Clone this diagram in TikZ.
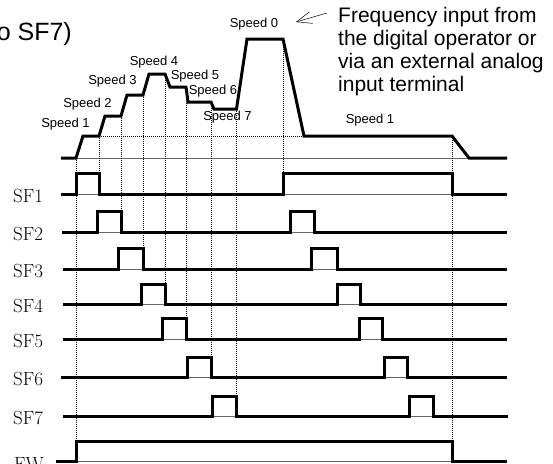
\documentclass[tikz,border=0pt]{standalone}
\usepackage{fontspec}
\newfontfamily\arialfont{Liberation Sans}
\usetikzlibrary{arrows.meta}
\tikzset{
  sig/.style={line width=3pt},
  lowline/.style={line width=0.8pt,black!60},
  guide/.style={line width=0.6pt,dash pattern=on 1pt off 1pt},
  spd/.style={font=\arialfont\fontsize{13}{15}\selectfont,inner sep=0pt},
  sflabel/.style={anchor=west,font=\fontsize{19}{21}\selectfont,inner sep=0pt}
}
\begin{document}
\begin{tikzpicture}[x=1pt,y=-1pt]
  \useasboundingbox (0,0) rectangle (553,463);
  \clip (0,0) rectangle (553,463);
  % speed profile
  \draw[lowline] (76,158) -- (507,158);
  \draw[guide] (99,136) -- (304,136);
  \draw[sig] (61,158) -- (76,158) -- (83,136) -- (99,136) -- (105,116) -- (121,116)
    -- (127,95) -- (143,95) -- (149,74) -- (165,74) -- (170,87) -- (186,87)
    -- (188,102) -- (211,102) -- (214,109) -- (236.5,109) -- (247,39) -- (283,39)
    -- (304,136) -- (452,136) -- (469,158) -- (507,158);
  \node[spd] (sp1) at (65.5,124) {Speed 1};
  \node[spd] (sp2) at (87.5,104) {Speed 2};
  \node[spd] (sp3) at (112.5,81) {Speed 3};
  \node[spd] (sp4) at (154,61.7) {Speed 4};
  \node[spd] (sp5) at (195,76) {Speed 5};
  \node[spd] (sp6) at (213,91) {Speed 6};
  \node[spd] (sp7) at (227.5,117.3) {Speed 7};
  \node[spd] (sp0) at (254,24) {Speed 0};
  \node[spd] (sp1b) at (370,120) {Speed 1};
  \node[anchor=base east,inner sep=0pt,font=\arialfont\fontsize{25}{27}\selectfont] (title) at (72,40) {o SF7)};
  \node[anchor=north west,inner sep=0pt,align=left,font=\arialfont\fontsize{21}{22.9}\selectfont] (freq) at (338,7.5)
    {Frequency input from\\the digital operator or\\via an external analog\\input terminal};
  \coordinate (tail) at (327,13);
  \draw[line width=0.5pt,-{Straight Barb[length=15pt,width=12pt,line width=0.5pt]}] (tail) -- (296,22);
  % time marks
  \draw[guide] (76,158) -- (76,441);
  \draw[guide] (99,136) -- (99,173.5);
  \draw[guide] (121,116) -- (121,211.5);
  \draw[guide] (143,95) -- (143,248.5);
  \draw[guide] (165,74) -- (165,284);
  \draw[guide] (186,87) -- (186,318.3);
  \draw[guide] (211,102) -- (211,357);
  \draw[guide] (236.5,109) -- (236.5,396);
  \draw[guide] (283,39) -- (283,173.5);
  \draw[guide] (452,136) -- (452,441);
  % SF1 to SF7, FW
  \draw[lowline] (76,194.5) -- (99,194.5) (283,194.5) -- (452,194.5);
  \draw[sig] (61,194.5) -- (76,194.5) |- (99,173.5) -- (99,194.5) -- (283,194.5) |- (452,173.5) -- (452,194.5) -- (507,194.5);
  \node[sflabel] (sf1) at (13,196.5) {SF1};
  \draw[lowline] (97,232.5) -- (121,232.5) (290,232.5) -- (314,232.5);
  \draw[sig] (62,232.5) -- (97,232.5) |- (121,211.5) -- (121,232.5) -- (290,232.5) |- (314,211.5) -- (314,232.5) -- (507,232.5);
  \node[sflabel] (sf2) at (13,234.5) {SF2};
  \draw[lowline] (118,269.5) -- (143,269.5) (311,269.5) -- (337,269.5);
  \draw[sig] (63,269.5) -- (118,269.5) |- (143,248.5) -- (143,269.5) -- (311,269.5) |- (337,248.5) -- (337,269.5) -- (507,269.5);
  \node[sflabel] (sf3) at (13,271.5) {SF3};
  \draw[lowline] (141,304.5) -- (165,304.5) (337,304.5) -- (360,304.5);
  \draw[sig] (63,304.5) -- (141,304.5) |- (165,284) -- (165,304.5) -- (337,304.5) |- (360,284) -- (360,304.5) -- (507,304.5);
  \node[sflabel] (sf4) at (13,306.5) {SF4};
  \draw[lowline] (162,339.3) -- (186,339.3) (359,339.3) -- (382,339.3);
  \draw[sig] (63,339.3) -- (162,339.3) |- (186,318.3) -- (186,339.3) -- (359,339.3) |- (382,318.3) -- (382,339.3) -- (507,339.3);
  \node[sflabel] (sf5) at (13,341.3) {SF5};
  \draw[lowline] (187,377) -- (211,377) (384,377) -- (407,377);
  \draw[sig] (61,377) -- (187,377) |- (211,357) -- (211,377) -- (384,377) |- (407,357) -- (407,377) -- (507,377);
  \node[sflabel] (sf6) at (13,379) {SF6};
  \draw[lowline] (212,416.5) -- (236.5,416.5) (409,416.5) -- (433,416.5);
  \draw[sig] (63,416.5) -- (212,416.5) |- (236.5,396) -- (236.5,416.5) -- (409,416.5) |- (433,396) -- (433,416.5) -- (508,416.5);
  \node[sflabel] (sf7) at (13,418.5) {SF7};
  \draw[lowline] (76,461.7) -- (452,461.7);
  \draw[sig] (56,461.7) -- (76,461.7) |- (452,441) -- (452,461.7) -- (507,461.7);
  \node[sflabel] (fw) at (14,463.7) {FW};
\end{tikzpicture}
\end{document}
